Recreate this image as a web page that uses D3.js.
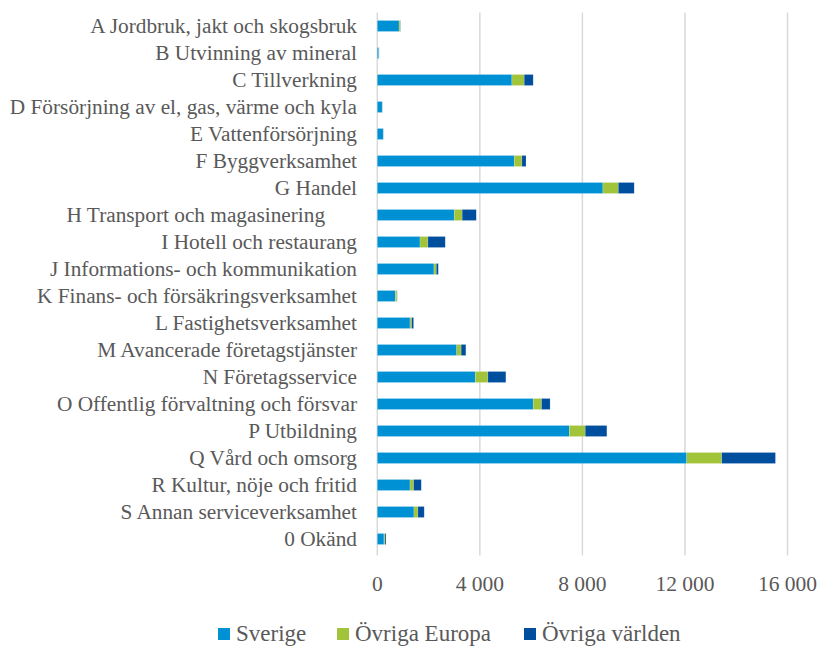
<!DOCTYPE html>
<html>
<head>
<meta charset="utf-8">
<script src="https://cdn.jsdelivr.net/npm/d3@7"></script>
<style>
  html, body { margin: 0; padding: 0; background: #fff; }
  svg { display: block; }
</style>
</head>
<body>
<svg id="chart" width="822" height="646" font-family="Liberation Serif"></svg>
<script>
// Sectors (sorted top to bottom)
const categories = [
  "A Jordbruk, jakt och skogsbruk",
  "B Utvinning av mineral",
  "C Tillverkning",
  "D Försörjning av el, gas, värme och kyla",
  "E Vattenförsörjning",
  "F Byggverksamhet",
  "G Handel",
  "H Transport och magasinering\u00a0\u00a0\u00a0\u00a0\u00a0\u00a0",
  "I Hotell och restaurang",
  "J Informations- och kommunikation",
  "K Finans- och försäkringsverksamhet",
  "L Fastighetsverksamhet",
  "M Avancerade företagstjänster",
  "N Företagsservice",
  "O Offentlig förvaltning och försvar",
  "P Utbildning",
  "Q Vård och omsorg",
  "R Kultur, nöje och fritid",
  "S Annan serviceverksamhet",
  "0 Okänd"
];

const sverige       = [850, 60, 5250, 190, 230, 5340, 8800, 3000, 1665, 2210, 700, 1275, 3100, 3820, 6080, 7490, 12070, 1275, 1430, 260];
const ovrigaEuropa  = [55, 5, 480, 5, 5, 300, 600, 310, 310, 90, 65, 65, 170, 495, 325, 620, 1365, 140, 155, 40];
const ovrigaVarlden = [10, 5, 350, 5, 5, 160, 620, 550, 675, 80, 10, 75, 185, 700, 335, 845, 2095, 300, 245, 40];

const seriesNames = ["Sverige", "Övriga Europa", "Övriga världen"];
const seriesColors = ["#0091d5", "#a2c43b", "#004f9f"];
const tickValues = [0, 4000, 8000, 12000, 16000];

const FONT = "Liberation Serif";
const TEXT_COLOR = "#595959";

const rows = categories.map((c, i) => ({
  cat: c,
  "Sverige": sverige[i],
  "Övriga Europa": ovrigaEuropa[i],
  "Övriga världen": ovrigaVarlden[i]
}));

const svg = d3.select("#chart");
const plotTop = 12.5, plotBottom = 552.5;

const x = d3.scaleLinear().domain([0, 16000]).range([377.3, 787.5]);
const y = d3.scaleBand().domain(categories).range([plotTop, plotBottom]).paddingInner(0.6).paddingOuter(0.3);

// vertical gridlines
svg.append("g")
  .selectAll("line")
  .data(tickValues)
  .join("line")
  .attr("x1", d => x(d)).attr("x2", d => x(d))
  .attr("y1", plotTop).attr("y2", plotBottom + 3)
  .attr("stroke", "#d9d9d9")
  .attr("stroke-width", 1.5);

// stacked bars
const stack = d3.stack().keys(seriesNames)(rows);
svg.append("g")
  .selectAll("g")
  .data(stack)
  .join("g")
  .attr("fill", (d, i) => seriesColors[i])
  .selectAll("rect")
  .data(d => d)
  .join("rect")
  .attr("x", d => x(d[0]))
  .attr("width", d => x(d[1]) - x(d[0]))
  .attr("y", d => y(d.data.cat) + y.bandwidth() / 2 - 5.5)
  .attr("height", 11)
  .attr("stroke", "#ffffff")
  .attr("stroke-opacity", 0.35)
  .attr("stroke-width", 0.5);

// category labels
svg.append("g")
  .selectAll("text")
  .data(categories)
  .join("text")
  .attr("x", 357)
  .attr("y", d => y(d) + y.bandwidth() / 2)
  .attr("dy", "0.33em")
  .attr("text-anchor", "end")
  .attr("font-family", FONT)
  .attr("font-size", 21.3)
  .attr("fill", TEXT_COLOR)
  .text(d => d);

// x tick labels
const fmt = v => d3.format(",")(v).replace(/,/g, " ");
svg.append("g")
  .selectAll("text")
  .data(tickValues)
  .join("text")
  .attr("x", d => x(d))
  .attr("y", 591)
  .attr("text-anchor", "middle")
  .attr("font-family", FONT)
  .attr("font-size", 21.5)
  .attr("fill", TEXT_COLOR)
  .text(d => fmt(d));

// legend
const legendX = [218, 337, 524];
const lg = svg.append("g");
seriesNames.forEach((name, i) => {
  lg.append("rect")
    .attr("x", legendX[i]).attr("y", 628)
    .attr("width", 12).attr("height", 12)
    .attr("fill", seriesColors[i]);
  lg.append("text")
    .attr("x", legendX[i] + 18).attr("y", 641)
    .attr("font-family", FONT)
    .attr("font-size", 23)
    .attr("fill", TEXT_COLOR)
    .text(name);
});
</script>
</body>
</html>
